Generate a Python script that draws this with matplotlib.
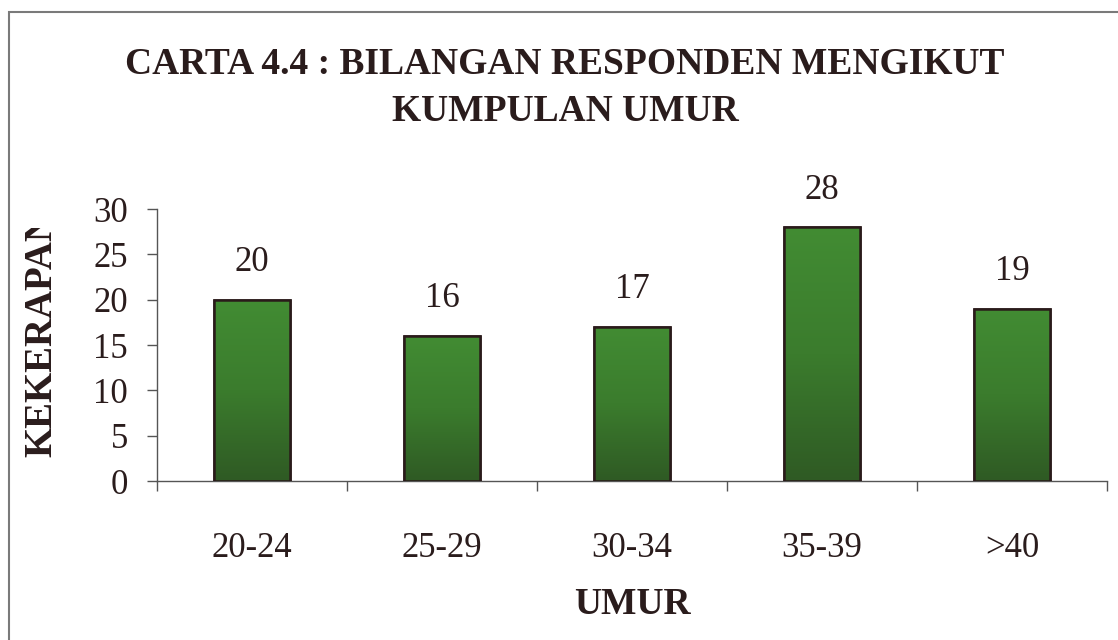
import matplotlib
matplotlib.use("Agg")
import matplotlib.pyplot as plt
import numpy as np
from matplotlib.patches import Rectangle
from matplotlib.colors import LinearSegmentedColormap
from matplotlib.transforms import Bbox

categories = ["20-24", "25-29", "30-34", "35-39", ">40"]
values = [20, 16, 17, 28, 19]
y_ticks = [0, 5, 10, 15, 20, 25, 30]

title = "CARTA 4.4 : BILANGAN RESPONDEN MENGIKUT\nKUMPULAN UMUR"
xlabel = "UMUR"
ylabel = "KEKERAPAN"

txt = "#2a1c1c"
plt.rcParams['font.family'] = ['Liberation Serif', 'DejaVu Serif']

W, H = 1118, 640
fig = plt.figure(figsize=(W / 100, H / 100), dpi=100)
fig.patch.set_facecolor("white")
# outer frame
fig.add_artist(Rectangle((9 / W, -0.1), 1.2, 1 - 12 / H + 0.1, transform=fig.transFigure,
                         fill=False, edgecolor="#7a7a7a", linewidth=1.5))

ax = fig.add_axes([157 / W, 1 - 481 / H, 950 / W, 272 / H])
x = np.arange(len(categories))
bars = ax.bar(x, values, width=0.405, color="#3d8530", edgecolor="#2a1a1a", linewidth=1.8, zorder=3)

cmap = LinearSegmentedColormap.from_list("g", ["#2f5a24", "#3b7c2d", "#428c33"])
grad = np.linspace(0, 1, 256).reshape(-1, 1)
for b in bars:
    x0, y0, w, h = b.get_x(), b.get_y(), b.get_width(), b.get_height()
    im = ax.imshow(grad, extent=[x0, x0 + w, y0, y0 + h], origin="lower", aspect="auto",
                   cmap=cmap, zorder=3.5)
    im.set_clip_path(b)
    ax.add_patch(Rectangle((x0, y0), w, h, fill=False, edgecolor="#2a1a1a", linewidth=1.8, zorder=4))

for xi, v in zip(x, values):
    ax.annotate(str(v), (xi, v), xytext=(0, 37), textcoords="offset pixels",
                ha="center", va="center", fontsize=25, color=txt)

ax.set_xlim(-0.5, len(categories) - 0.5)
ax.set_ylim(0, 30)
ax.set_yticks(y_ticks)
ax.set_xticks(x)
ax.set_xticklabels(categories)
ax.set_xticks(np.arange(len(categories) + 1) - 0.5, minor=True)
ax.tick_params(axis="x", which="major", length=0, pad=37, labelsize=25, labelcolor=txt)
ax.tick_params(axis="x", which="minor", length=7, width=1, color="#555555", direction="out")
ax.tick_params(axis="y", length=7, width=1, color="#555555", pad=14, labelsize=25, labelcolor=txt)

for s in ["top", "right"]:
    ax.spines[s].set_visible(False)
for s in ["left", "bottom"]:
    ax.spines[s].set_color("#555555")
    ax.spines[s].set_linewidth(1)

fig.text(565 / W, 1 - 88 / H, title, ha="center", va="center", fontsize=27,
         fontweight="bold", color=txt, linespacing=1.45)
fig.text(632 / W, 1 - 605 / H, xlabel, ha="center", va="center", fontsize=27,
         fontweight="bold", color=txt)
yl = fig.text(42 / W, 1 - 335 / H, ylabel, ha="center", va="center", rotation=90, fontsize=28,
              fontweight="bold", color=txt)
yl.set_clip_box(Bbox.from_extents(0, 0, W, H - 228))
yl.set_clip_on(True)

fig.savefig("out.png", dpi=100, facecolor="white")
